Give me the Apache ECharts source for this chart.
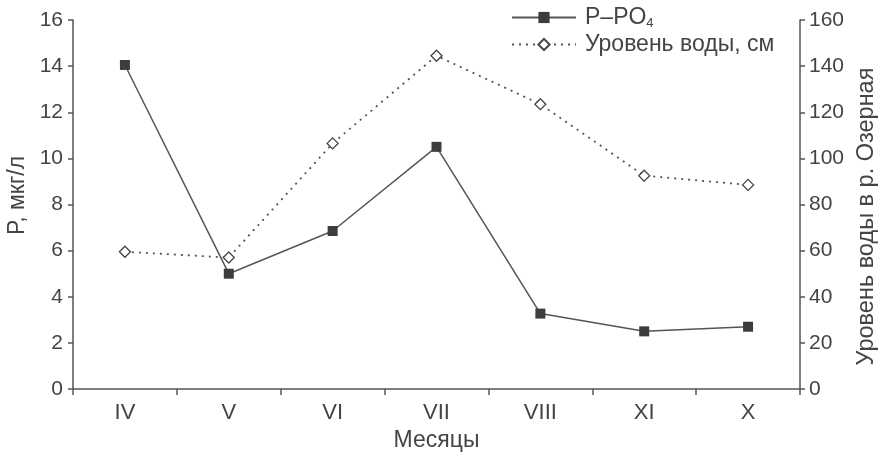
<!DOCTYPE html>
<html>
<head>
<meta charset="utf-8">
<script src="https://cdn.jsdelivr.net/npm/echarts@6/dist/echarts.min.js"></script>
<style>
  html, body { margin: 0; padding: 0; background: #fff; }
  #main { width: 882px; height: 457px; }
</style>
</head>
<body>
<div id="main"></div>
<script>
// месяцы по оси X
let months = ['IV', 'V', 'VI', 'VII', 'VIII', 'XI', 'X'];
// P-PO4, мкг/л
let pData = [14.05, 5.0, 6.85, 10.5, 3.27, 2.5, 2.7];
// уровень воды, см
let levelData = [59.5, 57, 106.5, 144.5, 123.5, 92.5, 88.5];

let leftTicks = [0, 2, 4, 6, 8, 10, 12, 14, 16];
let rightTicks = [0, 20, 40, 60, 80, 100, 120, 140, 160];

let myChart = echarts.init(document.getElementById('main'));

let txt = '#444';
let ln = '#555';
let font = 'Liberation Sans, Arial, sans-serif';

let option = {
  backgroundColor: '#fff',
  animation: false,
  textStyle: { fontFamily: font },
  grid: { left: 73, right: 82, top: 20, bottom: 68, outerBoundsMode: 'none', containLabel: false },
  legend: {
    orient: 'vertical',
    left: 506,
    top: 1,
    itemWidth: 64,
    itemHeight: 14,
    itemGap: 3,
    data: ['P-PO4', 'Уровень воды, см'],
    formatter: function(name) {
      if (name === 'P-PO4') return '{a|P–PO}{s|4}';
      return '{a|' + name + '}';
    },
    textStyle: {
      color: txt,
      fontFamily: font,
      padding: [0, 0, 0, 4],
      rich: {
        a: { fontSize: 23, color: txt, fontFamily: font },
        s: { fontSize: 13, color: txt, fontFamily: font, verticalAlign: 'bottom', padding: [12, 0, 0, 0] }
      }
    }
  },
  xAxis: {
    type: 'category',
    data: months,
    boundaryGap: true,
    name: 'Месяцы',
    nameLocation: 'middle',
    nameGap: 40,
    nameTextStyle: { fontSize: 23, color: txt, fontFamily: font },
    axisLine: { lineStyle: { color: ln, width: 1.5 } },
    axisTick: { show: true, length: 6, inside: false, lineStyle: { color: ln, width: 1.5 } },
    axisLabel: { fontSize: 22, color: txt, margin: 13, fontFamily: font },
    splitLine: { show: false }
  },
  yAxis: [{
    type: 'value',
    min: 0,
    max: 16,
    interval: 2,
    position: 'left',
    name: 'P, мкг/л',
    nameLocation: 'middle',
    nameGap: 44,
    nameTextStyle: { fontSize: 23, color: txt, fontFamily: font, padding: [0, 0, 0, 18] },
    axisLine: { show: true, lineStyle: { color: ln, width: 1.5 } },
    axisTick: { show: true, length: 5, lineStyle: { color: ln, width: 1.5 } },
    axisLabel: {
      fontSize: 21, color: txt, margin: 10, fontFamily: font,
      formatter: function(v) { return leftTicks.indexOf(v) >= 0 ? String(v) : ''; }
    },
    splitLine: { show: false }
  }, {
    type: 'value',
    min: 0,
    max: 160,
    interval: 20,
    position: 'right',
    name: 'Уровень воды в р. Озерная',
    nameLocation: 'middle',
    nameGap: 47,
    nameRotate: 90,
    nameTextStyle: { fontSize: 23.5, color: txt, fontFamily: font, padding: [0, 24, 0, 0] },
    axisLine: { show: true, lineStyle: { color: ln, width: 1.5 } },
    axisTick: { show: true, length: 5, lineStyle: { color: ln, width: 1.5 } },
    axisLabel: {
      fontSize: 21, color: txt, margin: 9, fontFamily: font,
      formatter: function(v) { return rightTicks.indexOf(v) >= 0 ? String(v) : ''; }
    },
    splitLine: { show: false }
  }],
  series: [{
    name: 'P-PO4',
    type: 'line',
    yAxisIndex: 0,
    data: pData,
    symbol: 'rect',
    symbolSize: 10,
    itemStyle: { color: '#3d3d3d', borderColor: '#3d3d3d', borderWidth: 0 },
    lineStyle: { color: ln, width: 1.5, type: 'solid' }
  }, {
    name: 'Уровень воды, см',
    type: 'line',
    yAxisIndex: 1,
    data: levelData,
    symbol: 'diamond',
    symbolSize: 11,
    itemStyle: { color: '#fff', borderColor: '#444', borderWidth: 1.3 },
    lineStyle: { color: ln, width: 1.8, type: [2, 5] }
  }]
};

myChart.setOption(option);
</script>
</body>
</html>
